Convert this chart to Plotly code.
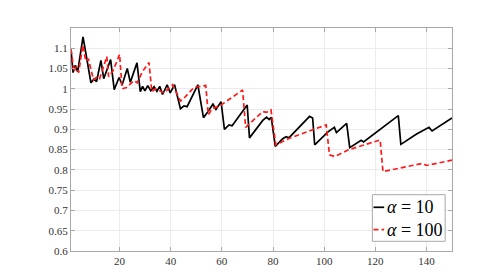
import plotly.graph_objects as go

# alpha = 10 (black solid)
x_a10 = [1, 1.8, 2.7, 3.6, 5.7, 6.8, 8.8, 10, 11, 12.7, 13.8, 16.5, 17.9, 19.8, 21, 23, 24.2,
         26.8, 28.1, 29, 29.9, 31, 32.2, 33.5, 34.6, 35.7, 36.8, 38.6, 39.8, 41.5, 43.8, 45.2,
         46.4, 50.6, 52.8, 54.4, 56.5, 57.7, 59.7, 61, 62.8, 64, 69.9, 70.8, 76, 77.5, 78.5,
         79.3, 80.9, 83.8, 85.1, 86.2, 94.3, 95.5, 96.3, 101.5, 104, 104.8, 108.8, 110, 113.5,
         114.5, 115.4, 129, 130, 136, 141, 142.2, 150]
y_a10 = [1.097, 1.04, 1.058, 1.042, 1.128, 1.085, 1.015, 1.024, 1.018, 1.07, 1.025, 1.072, 0.998,
         1.028, 1.01, 1.05, 1.016, 1.064, 0.993, 1.006, 0.995, 1.008, 0.995, 1.005, 0.994, 1.006,
         0.986, 1.01, 0.99, 1.01, 0.951, 0.958, 0.956, 1.01, 0.929, 0.942, 0.962, 0.949, 0.968,
         0.9, 0.911, 0.909, 0.96, 0.879, 0.922, 0.93, 0.924, 0.93, 0.858, 0.877, 0.882, 0.879,
         0.932, 0.928, 0.862, 0.894, 0.905, 0.892, 0.915, 0.855, 0.87, 0.873, 0.869, 0.934,
         0.863, 0.888, 0.905, 0.896, 0.928]

# alpha = 100 (red dashed)
x_a100 = [1, 2.2, 3, 4, 5.6, 6.8, 7.8, 9.8, 11.2, 12.2, 14, 15, 15.7, 17.5, 20, 21, 22.7, 25.6,
          26.9, 28.9, 31.5, 32.6, 34, 35.5, 37.4, 39, 40.7, 43.8, 44.6, 49.2, 53.7, 54.7, 56.4,
          59, 68.1, 69.3, 76, 77.5, 79.2, 81.1, 86.4, 100.8, 102.1, 104.1, 109.3, 121.9, 123,
          138.5, 140, 150]
y_a100 = [1.097, 1.042, 1.055, 1.04, 1.108, 1.068, 1.074, 1.022, 1.03, 1.025, 1.06, 1.08, 1.03,
          1.045, 1.085, 1.0, 1.003, 1.02, 1.015, 1.042, 1.065, 0.993, 1.0, 0.995, 0.99, 1.0,
          1.01, 0.97, 0.973, 1.004, 1.008, 0.936, 0.952, 0.957, 0.997, 0.905, 0.944, 0.942,
          0.948, 0.862, 0.878, 0.911, 0.837, 0.833, 0.849, 0.874, 0.796, 0.816, 0.811, 0.824]

series_names = ["<i>α</i> = 10", "<i>α</i> = 100"]
series_colors = ["black", "#ff1a1a"]
series_dash = ["solid", "5px,3px"]

y_ticks = [0.6, 0.65, 0.7, 0.75, 0.8, 0.85, 0.9, 0.95, 1.0, 1.05, 1.1]
y_tick_labels = ["0.6", "0.65", "0.7", "0.75", "0.8", "0.85", "0.9", "0.95", "1", "1.05", "1.1"]
x_ticks = [20, 40, 60, 80, 100, 120, 140]

fig = go.Figure()
for xs, ys, nm, col, ds in [(x_a10, y_a10, series_names[0], series_colors[0], series_dash[0]),
                            (x_a100, y_a100, series_names[1], series_colors[1], series_dash[1])]:
    fig.add_trace(go.Scatter(x=xs, y=ys, mode="lines", name=nm,
                             line=dict(color=col, width=1.7, dash=ds), showlegend=False))

axis_common = dict(showgrid=True, gridcolor="#ececec", gridwidth=1, zeroline=False,
                   showline=True, linecolor="#a8a8a8", linewidth=1, mirror="ticks",
                   ticks="inside", ticklen=4, tickcolor="#a8a8a8",
                   tickfont=dict(family="Liberation Serif", size=11, color="#333"))

fig.update_xaxes(range=[1, 150], tickvals=x_ticks, **axis_common)
fig.update_yaxes(range=[0.6, 1.15], tickvals=y_ticks, ticktext=y_tick_labels, **axis_common)

# compact legend box (paper coordinates)
lx0, lx1, ly0, ly1 = 0.791, 0.982, 0.0435, 0.2525
row_y = [0.196, 0.0955]
shapes = [dict(type="rect", xref="paper", yref="paper", x0=lx0, x1=lx1, y0=ly0, y1=ly1,
               line=dict(color="#a8a8a8", width=1), fillcolor="white", layer="above")]
annotations = []
for i in range(2):
    shapes.append(dict(type="line", xref="paper", yref="paper", x0=0.794, x1=0.822,
                       y0=row_y[i], y1=row_y[i],
                       line=dict(color=series_colors[i], width=1.7, dash=series_dash[i]),
                       layer="above"))
    annotations.append(dict(xref="paper", yref="paper", x=0.823, y=row_y[i], xanchor="left",
                            yanchor="middle", showarrow=False, text=series_names[i],
                            font=dict(family="Liberation Serif", size=18, color="black")))

fig.update_layout(
    width=491, height=273,
    margin=dict(l=63, r=47, t=20, b=30),
    paper_bgcolor="white", plot_bgcolor="white",
    showlegend=False,
    shapes=shapes, annotations=annotations,
)

fig.write_html("out.html")
